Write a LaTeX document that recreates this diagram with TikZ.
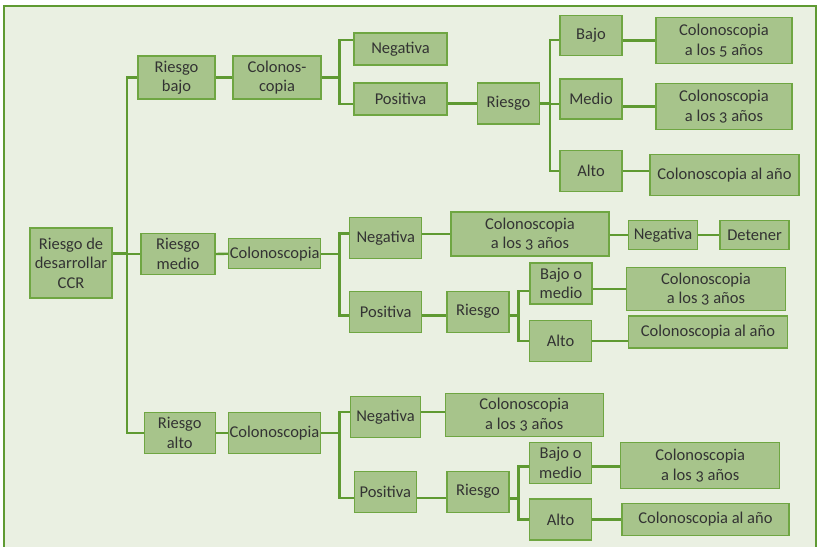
\documentclass[tikz,border=0pt]{standalone}
\usepackage{fontspec}
\setmainfont{Carlito}[Numbers=OldStyle]
\usepackage{tikz}
\definecolor{fondo}{HTML}{EAF0E2}
\definecolor{marco}{HTML}{5F9A32}
\definecolor{relleno}{HTML}{A7C48B}
\definecolor{borde}{HTML}{6FA642}
\definecolor{texto}{HTML}{333333}
\tikzset{
  caja/.style 2 args={draw=borde, fill=relleno, line width=1.3pt, inner sep=0pt, align=center,
    text=texto, font=\fontsize{16.5}{19.5}\selectfont, minimum width=#1pt, minimum height=#2pt},
  linea/.style={draw=marco, line width=2.4pt}
}

\begin{document}
\begin{tikzpicture}[x=1pt, y=-1pt]
\useasboundingbox (0,0) rectangle (819,546);
\clip (0,0) rectangle (819,546);
\fill[white] (0,0) rectangle (819,546);
\draw[fill=fondo, draw=marco, line width=2.4pt] (4,6) rectangle (816,560);

% raiz
\node[caja={82}{70}] (raiz) at (71,263) {Riesgo de\\desarrollar\\CCR};

% riesgo bajo
\node[caja={77}{43}] (rbajo) at (176.5,77.5) {Riesgo\\bajo};
\node[caja={88}{43}] (col1) at (277,77.5) {Colonos-\\copia};
\node[caja={93}{32}] (neg1) at (400.5,49) {Negativa};
\node[caja={93}{32}] (pos1) at (400.5,99) {Positiva};
\node[caja={62}{41}] (ries1) at (508.5,103.5) {Riesgo};
\node[caja={62}{40}] (bajo1) at (591,35.5) {Bajo};
\node[caja={62}{40}] (medio1) at (591,99) {Medio};
\node[caja={62}{41}] (alto1) at (591,171) {Alto};
\node[caja={136}{46}] (cinco1) at (724,40.5) {Colonoscopia\\a los 5 años};
\node[caja={136}{46}] (tres1) at (724,106.5) {Colonoscopia\\a los 3 años};
\node[caja={149}{41}] (anio1) at (724.5,175) {Colonoscopia al año};

% riesgo medio
\node[caja={74}{41}] (rmed) at (178,254) {Riesgo\\medio};
\node[caja={92}{30}] (col2) at (274.7,253.7) {Colonoscopia};
\node[caja={72}{41}] (neg2) at (385.7,237.8) {Negativa};
\node[caja={72}{41}] (pos2) at (385.7,311.8) {Positiva};
\node[caja={158}{44}] (tresn2) at (530,234) {Colonoscopia\\a los 3 años};
\node[caja={69}{29}] (negb2) at (663,235) {Negativa};
\node[caja={69}{29}] (det2) at (754.5,235) {Detener};
\node[caja={62}{41}] (ries2) at (478,311.7) {Riesgo};
\node[caja={62}{41}] (bym2) at (561,283.5) {Bajo o\\medio};
\node[caja={62}{41}] (alto2) at (560.5,341) {Alto};
\node[caja={159}{43}] (tresp2) at (706,289) {Colonoscopia\\a los 3 años};
\node[caja={159}{32}] (anio2) at (708,332) {Colonoscopia al año};

% riesgo alto
\node[caja={71}{41}] (ralto) at (179.7,432.8) {Riesgo\\alto};
\node[caja={92}{41}] (col3) at (274.5,432.8) {Colonoscopia};
\node[caja={70}{41}] (neg3) at (385.5,417) {Negativa};
\node[caja={62}{41}] (pos3) at (385.3,491.8) {Positiva};
\node[caja={158}{43}] (tresn3) at (524.3,414.7) {Colonoscopia\\a los 3 años};
\node[caja={62}{41}] (ries3) at (478,491.7) {Riesgo};
\node[caja={62}{41}] (bym3) at (560.5,462.8) {Bajo o\\medio};
\node[caja={62}{41}] (alto3) at (560.5,519.5) {Alto};
\node[caja={159}{46}] (tresp3) at (700.3,465.5) {Colonoscopia\\a los 3 años};
\node[caja={167}{32}] (anio3) at (705.5,519.5) {Colonoscopia al año};

% tronco
\draw[linea] (raiz.13) -- ++(14.3,0) |- (rbajo.west);
\draw[linea] (raiz.13) -- ++(14.3,0) |- (rmed.west);
\draw[linea] (raiz.13) -- ++(14.3,0) |- (ralto.west);

% rama baja
\draw[linea] (rbajo.east) -- (col1.west);
\draw[linea] (col1.east) -- ++(18,0) |- (neg1.169);
\draw[linea] (col1.east) -- ++(18,0) |- (pos1.186);
\draw[linea] (ries1.west -| pos1.east) -- (ries1.west);
\draw[linea] (ries1.east) -- ++(9.7,0) |- (bajo1.188);
\draw[linea] (ries1.east) -- ++(9.7,0) |- (medio1.189);
\draw[linea] (ries1.east) -- ++(9.7,0) |- (alto1.west);
\draw[linea] (cinco1.west -| bajo1.east) -- (cinco1.west);
\draw[linea] (tres1.west -| medio1.east) -- (tres1.west);
\draw[linea] (alto1.east) -- (alto1.east -| anio1.west);

% rama media
\draw[linea] (rmed.east) -- (col2.west);
\draw[linea] (col2.east) -- ++(18.3,0) |- (neg2.173);
\draw[linea] (col2.east) -- ++(18.3,0) |- (pos2.186);
\draw[linea] (tresn2.west -| neg2.east) -- (tresn2.west);
\draw[linea] (negb2.west -| tresn2.east) -- (negb2.west);
\draw[linea] (negb2.east) -- (det2.west);
\draw[linea] (pos2.354) -- (pos2.354 -| ries2.west);
\draw[linea] (ries2.353) -- ++(8.7,0) |- (bym2.193);
\draw[linea] (ries2.353) -- ++(8.7,0) |- (alto2.west);
\draw[linea] (bym2.east |- tresp2.west) -- (tresp2.west);
\draw[linea] (alto2.east) -- (alto2.east -| anio2.west);

% rama alta
\draw[linea] (ralto.east) -- (col3.west);
\draw[linea] (col3.east) -- ++(18.3,0) |- (neg3.172);
\draw[linea] (col3.east) -- ++(18.3,0) |- (pos3.191);
\draw[linea] (neg3.8) -- (neg3.8 -| tresn3.west);
\draw[linea] (pos3.349) -- (pos3.349 -| ries3.west);
\draw[linea] (ries3.348) -- ++(8.7,0) |- (bym3.187);
\draw[linea] (ries3.348) -- ++(8.7,0) |- (alto3.west);
\draw[linea] (bym3.353) -- (bym3.353 -| tresp3.west);
\draw[linea] (alto3.east) -- (anio3.west);
\end{tikzpicture}
\end{document}
